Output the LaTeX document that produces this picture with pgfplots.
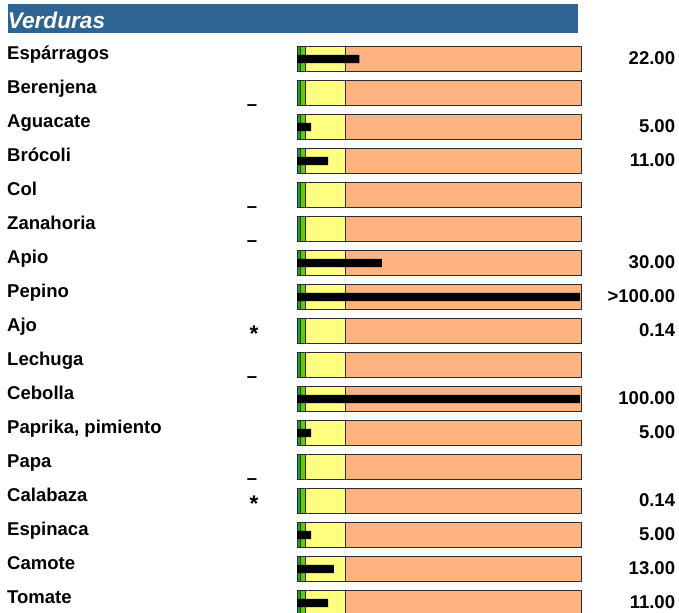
\documentclass[border=0pt]{standalone}
\usepackage{pgfplots}
\pgfplotsset{compat=1.18}
\usepackage{pgfplotstable}
\usepackage{fontspec}
\setmainfont{Liberation Sans}
\definecolor{hdrblue}{RGB}{46,100,145}
\definecolor{dkgreen}{RGB}{20,160,60}
\definecolor{ltgreen}{RGB}{100,204,0}
\definecolor{pyellow}{RGB}{255,255,128}
\definecolor{porange}{RGB}{255,179,128}
\definecolor{bord}{RGB}{45,45,45}

% background band limits (same for every row)
\pgfplotstableread{
row dg lg ye or
0 1.06 2.83 17.0 100.6
1 1.06 2.83 17.0 100.6
2 1.06 2.83 17.0 100.6
3 1.06 2.83 17.0 100.6
4 1.06 2.83 17.0 100.6
5 1.06 2.83 17.0 100.6
6 1.06 2.83 17.0 100.6
7 1.06 2.83 17.0 100.6
8 1.06 2.83 17.0 100.6
9 1.06 2.83 17.0 100.6
10 1.06 2.83 17.0 100.6
11 1.06 2.83 17.0 100.6
12 1.06 2.83 17.0 100.6
13 1.06 2.83 17.0 100.6
14 1.06 2.83 17.0 100.6
15 1.06 2.83 17.0 100.6
16 1.06 2.83 17.0 100.6
}\bands

% measured values
\pgfplotstableread{
row val
0 22
2 5
3 11
6 30
7 100
8 0.14
10 100
11 5
13 0.14
14 5
15 13
16 11
}\vals

\newcommand{\tf}{\fontsize{13.9}{16}\selectfont\bfseries}
\tikzset{
  lab/.style={anchor=base west, inner sep=0pt, font=\tf, yshift=-0.4pt},
  val/.style={anchor=base east, inner sep=0pt, font=\tf, yshift=-4.1pt},
  dsh/.style={anchor=base, inner sep=0pt, font=\tf, yshift=-13pt},
  ast/.style={anchor=base, inner sep=0pt, font=\fontsize{17}{19}\selectfont\bfseries, yshift=-7.7pt},
}
\pgfplotsset{
  band/.style={xbar, bar shift=0pt, bar width=0.735, draw=bord, line width=0.75pt},
}

\begin{document}
\begin{tikzpicture}
\useasboundingbox (0,0) rectangle (509.25pt,459pt);
\begin{axis}[
  at={(0,0)}, anchor=south west,
  scale only axis, width=509.25pt, height=459pt,
  xmin=-104.947, xmax=134.982,
  ymin=-1.7353, ymax=16.2647, y dir=reverse,
  axis line style={draw=none}, ticks=none,
  clip=true,
]
% header
\fill[hdrblue] (axis cs:-102.1,-1.6176) rectangle (axis cs:99.3,-0.7559);
\node[anchor=base west, inner sep=0pt, text=white, font=\fontsize{17}{20}\selectfont\bfseries\itshape]
  at (axis cs:-102.3,-0.903) {Verduras};

% bands
\addplot[band, fill=porange] table[x=or, y=row] {\bands};
\addplot[band, fill=pyellow] table[x=ye, y=row] {\bands};
\addplot[band, fill=ltgreen] table[x=lg, y=row] {\bands};
\addplot[band, fill=dkgreen] table[x=dg, y=row] {\bands};

% values
\addplot[xbar, bar shift=0pt, bar width=0.244, fill=black, draw=none] table[x=val, y=row] {\vals};

% row labels
\node[lab] at (axis cs:-102.5,0) {Espárragos};
\node[lab] at (axis cs:-102.5,1) {Berenjena};
\node[lab] at (axis cs:-102.5,2) {Aguacate};
\node[lab] at (axis cs:-102.5,3) {Brócoli};
\node[lab] at (axis cs:-102.5,4) {Col};
\node[lab] at (axis cs:-102.5,5) {Zanahoria};
\node[lab] at (axis cs:-102.5,6) {Apio};
\node[lab] at (axis cs:-102.5,7) {Pepino};
\node[lab] at (axis cs:-102.5,8) {Ajo};
\node[lab] at (axis cs:-102.5,9) {Lechuga};
\node[lab] at (axis cs:-102.5,10) {Cebolla};
\node[lab] at (axis cs:-102.5,11) {Paprika, pimiento};
\node[lab] at (axis cs:-102.5,12) {Papa};
\node[lab] at (axis cs:-102.5,13) {Calabaza};
\node[lab] at (axis cs:-102.5,14) {Espinaca};
\node[lab] at (axis cs:-102.5,15) {Camote};
\node[lab] at (axis cs:-102.5,16) {Tomate};

% value texts
\node[val] at (axis cs:133.7,0) {22.00};
\node[val] at (axis cs:133.7,2) {5.00};
\node[val] at (axis cs:133.7,3) {11.00};
\node[val] at (axis cs:133.7,6) {30.00};
\node[val] at (axis cs:133.7,7) {>100.00};
\node[val] at (axis cs:133.7,8) {0.14};
\node[val] at (axis cs:133.7,10) {100.00};
\node[val] at (axis cs:133.7,11) {5.00};
\node[val] at (axis cs:133.7,13) {0.14};
\node[val] at (axis cs:133.7,14) {5.00};
\node[val] at (axis cs:133.7,15) {13.00};
\node[val] at (axis cs:133.7,16) {11.00};

% flags
\node[dsh] at (axis cs:-15.9,1) {–};
\node[dsh] at (axis cs:-15.9,4) {–};
\node[dsh] at (axis cs:-15.9,5) {–};
\node[dsh] at (axis cs:-15.9,9) {–};
\node[dsh] at (axis cs:-15.9,12) {–};
\node[ast] at (axis cs:-15.2,8) {*};
\node[ast] at (axis cs:-15.2,13) {*};
\end{axis}
\end{tikzpicture}
\end{document}
